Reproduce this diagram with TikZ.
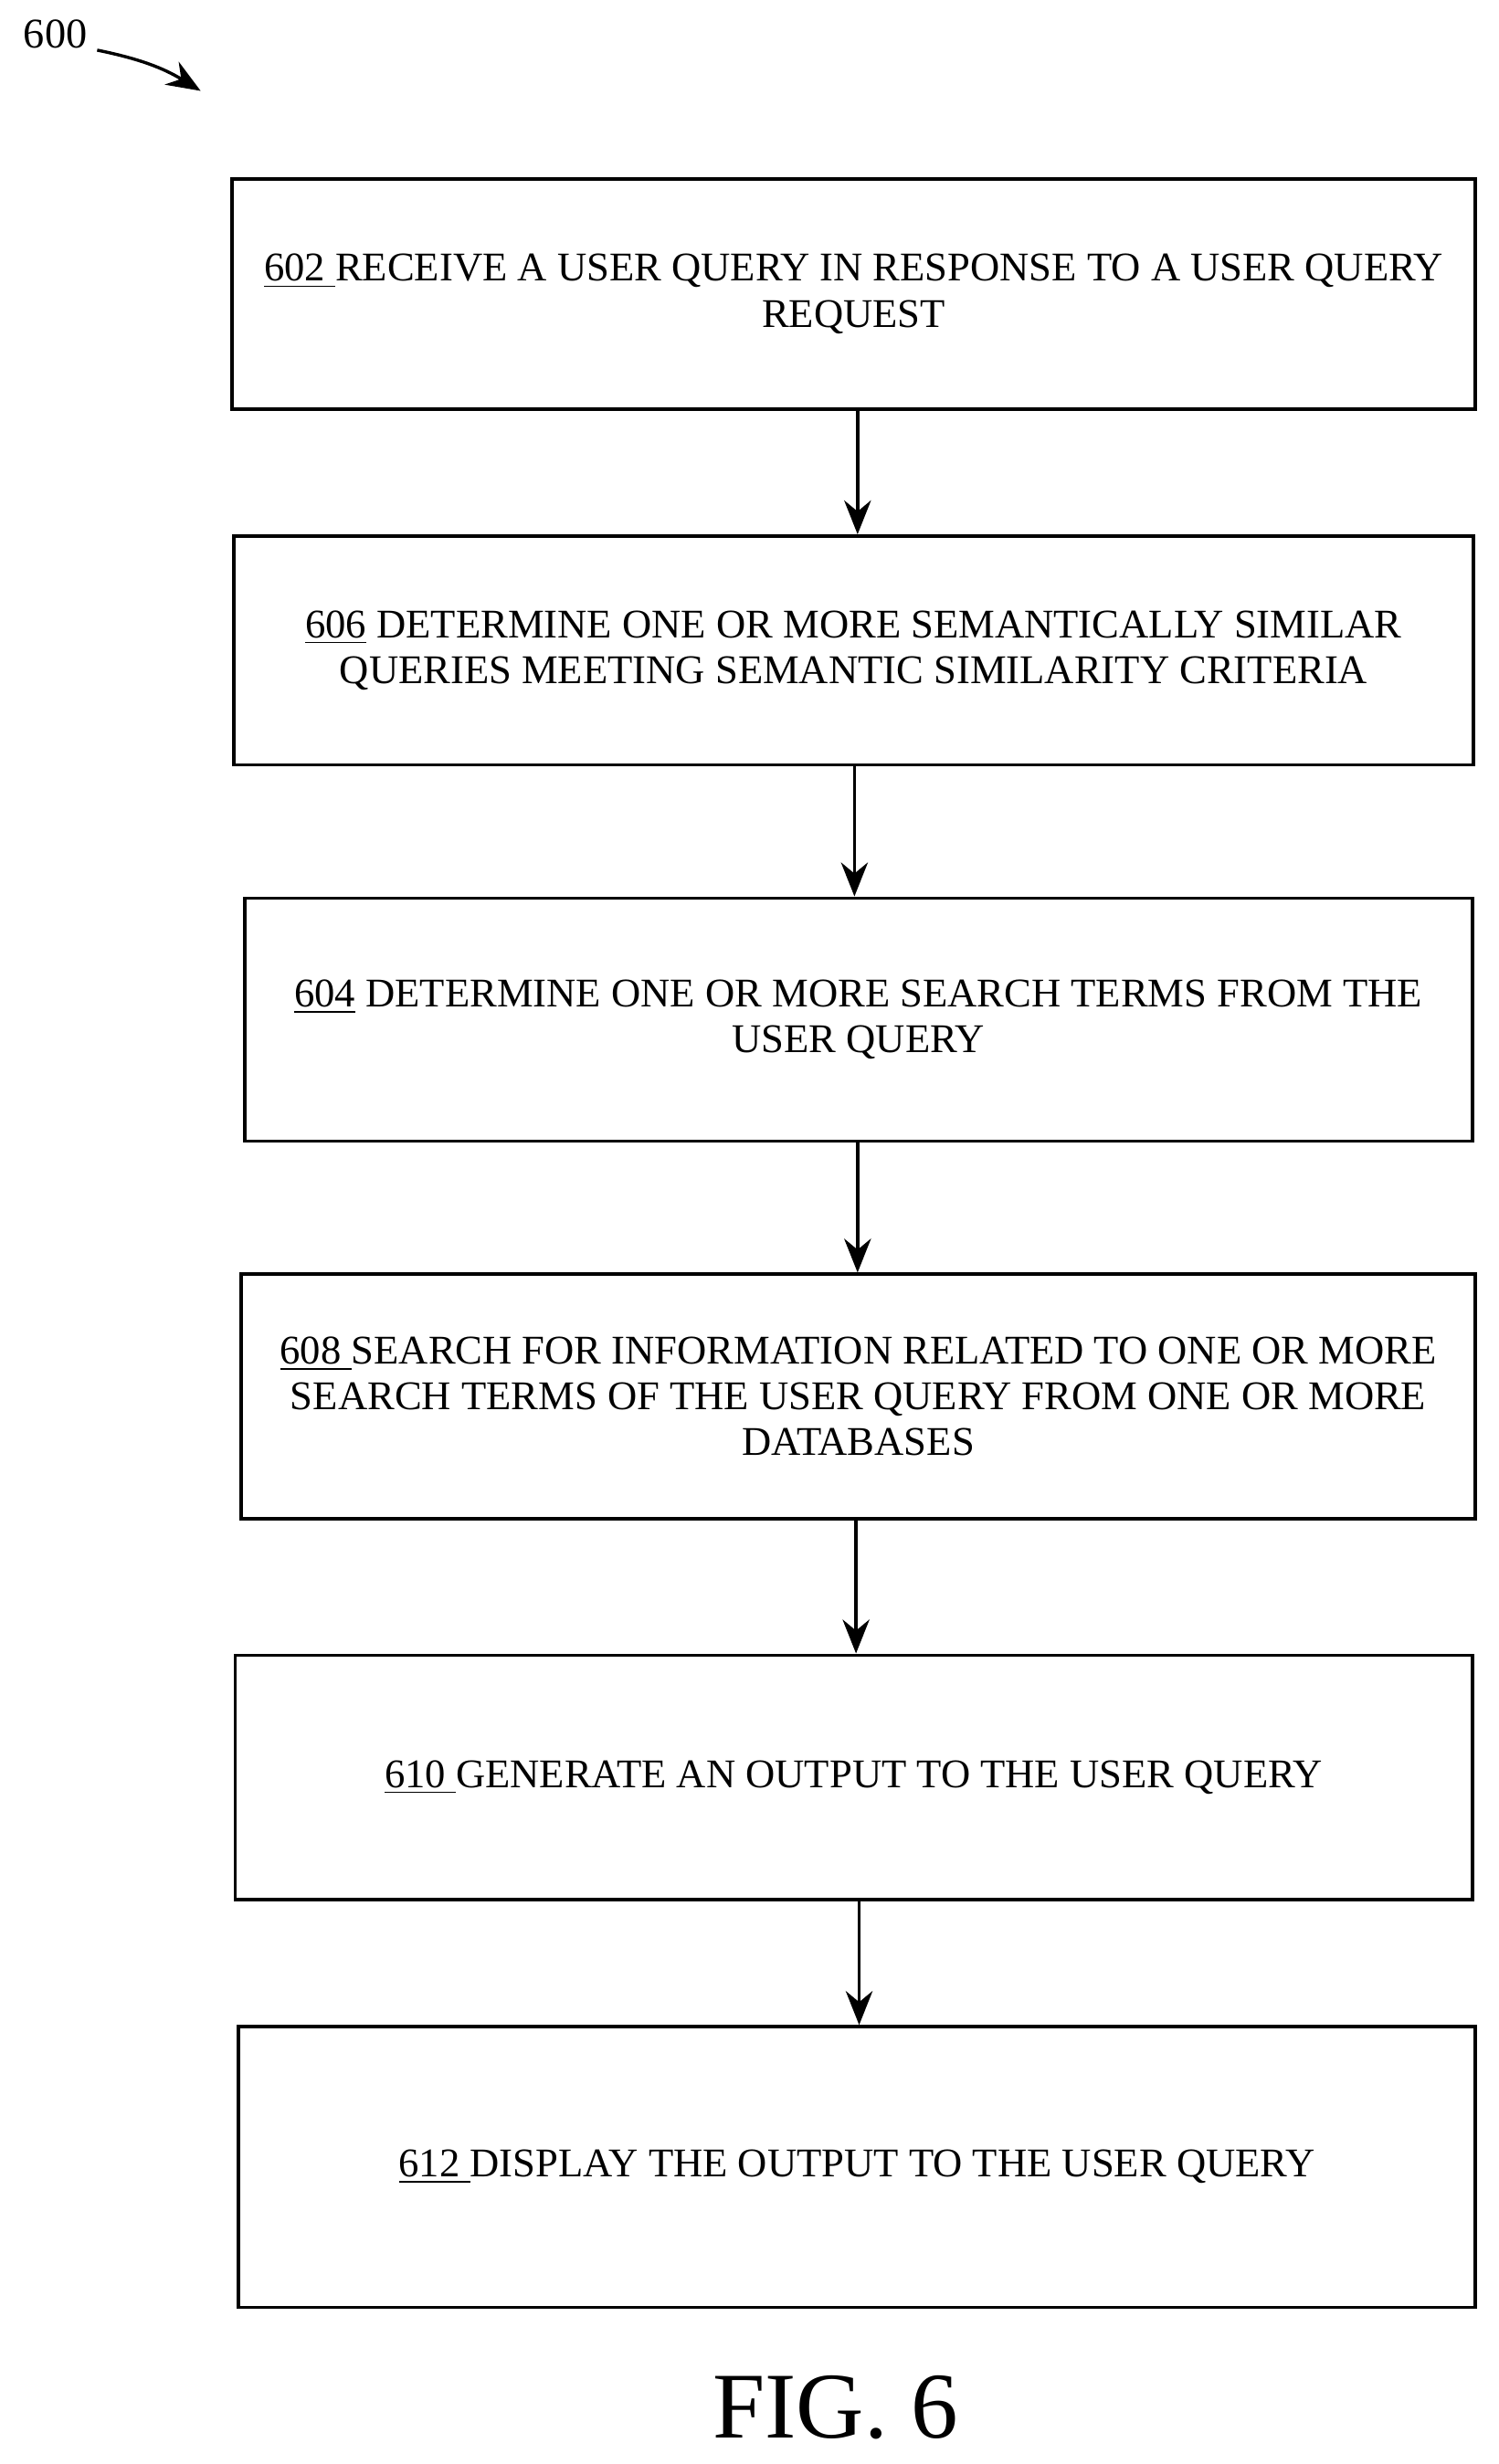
\documentclass[tikz,border=0pt]{standalone}
\usepackage{fontspec}
\setmainfont{Liberation Serif}
\usetikzlibrary{positioning,arrows.meta}
\tikzset{>={Stealth[width=3mm,length=3.8mm]}}

\begin{document}
\begin{tikzpicture}[
    x=0.5pt, y=-0.5pt,
    stepbox/.style={
        draw, line width=1.1pt, align=center, inner sep=0pt,
        font=\fontsize{13}{14.6}\selectfont
    },
    flow/.style={->, line width=1.1pt}
]
\useasboundingbox (0,0) rectangle (956,1572);

\node[font=\fontsize{13.5}{15}\selectfont, anchor=west] (fignum) at (8,22) {600};
\coordinate (figtip) at (128,58);
\draw[->, line width=1pt] (62,32) to[bend left=10] (figtip);

\node[stepbox, minimum width=793*0.5pt, minimum height=147*0.5pt] (s602) at (544.5,187.5)
    {\underline{602\ }RECEIVE A USER QUERY IN RESPONSE TO A USER QUERY\\REQUEST};
\node[stepbox, minimum width=791*0.5pt, minimum height=146*0.5pt] (s606) at (544.5,415)
    {\underline{606} DETERMINE ONE OR MORE SEMANTICALLY SIMILAR\\QUERIES MEETING SEMANTIC SIMILARITY CRITERIA};
\node[stepbox, minimum width=783*0.5pt, minimum height=155*0.5pt] (s604) at (547.5,650.5)
    {\underline{604} DETERMINE ONE OR MORE SEARCH TERMS FROM THE\\USER QUERY};
\node[stepbox, minimum width=787*0.5pt, minimum height=156*0.5pt] (s608) at (547.5,891)
    {\underline{608\ }SEARCH FOR INFORMATION RELATED TO ONE OR MORE\\SEARCH TERMS OF THE USER QUERY FROM ONE OR MORE\\DATABASES};
\node[stepbox, minimum width=789*0.5pt, minimum height=156*0.5pt] (s610) at (544.5,1134)
    {\underline{610\ }GENERATE AN OUTPUT TO THE USER QUERY};
\node[stepbox, minimum width=789*0.5pt, minimum height=179*0.5pt] (s612) at (546.5,1382.5)
    {\underline{612\ }DISPLAY THE OUTPUT TO THE USER QUERY};

\draw[flow] (s602.south -| 547,0) -- (s606.north -| 547,0);
\draw[flow] (s606.south -| 545,0) -- (s604.north -| 545,0);
\draw[flow] (s604.south -| 547,0) -- (s608.north -| 547,0);
\draw[flow] (s608.south -| 546,0) -- (s610.north -| 546,0);
\draw[flow] (s610.south -| 548,0) -- (s612.north -| 548,0);

\node[font=\fontsize{30}{34}\selectfont] (caption) at (533,1536) {FIG. 6};

\end{tikzpicture}
\end{document}
